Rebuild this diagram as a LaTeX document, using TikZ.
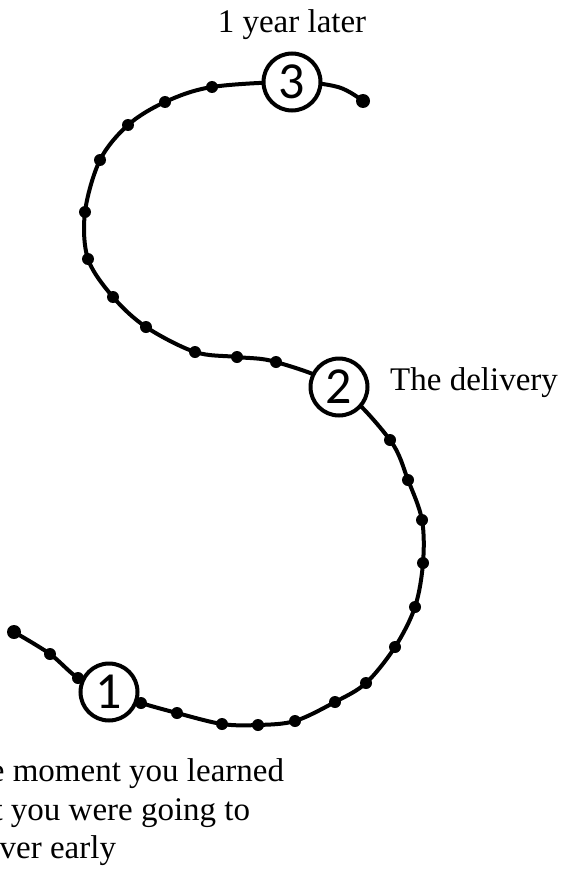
\documentclass[tikz,border=0pt]{standalone}
\usepackage{fontspec}
\setmainfont{Liberation Serif}
\newfontfamily\digitfont{Carlito}
\begin{document}
\begin{tikzpicture}[x=1pt,y=-1pt,
  curve/.style={line width=4pt,black,line cap=round},
  dot/.style={circle,fill=black,inner sep=0pt,minimum size=12pt},
  enddot/.style={circle,fill=black,inner sep=0pt,minimum size=14pt},
  numc/.style={circle,draw=black,line width=4pt,fill=white,inner sep=0pt,
    minimum size=57pt,font=\digitfont\fontsize{52}{52}\selectfont},
  lab/.style={inner sep=0pt,font=\fontsize{33}{38}\selectfont}]
\useasboundingbox (0,0) rectangle (565,872);
\clip (0,0) rectangle (565,872);
% path points
\coordinate (s) at (14,632);
\coordinate (p1) at (50,654);
\coordinate (p2) at (78,678);
\coordinate (k1) at (109,692);
\coordinate (p3) at (141,703);
\coordinate (p4) at (177,713);
\coordinate (p5) at (222,724);
\coordinate (p6) at (258,725);
\coordinate (p7) at (295,721);
\coordinate (p8) at (335,702);
\coordinate (p9) at (366,683);
\coordinate (p10) at (395,647);
\coordinate (p11) at (415,607);
\coordinate (p12) at (423,563);
\coordinate (p13) at (422,520);
\coordinate (p14) at (408,480);
\coordinate (p15) at (390,440);
\coordinate (k2) at (339,387);
\coordinate (p16) at (276,362);
\coordinate (p17) at (237,357);
\coordinate (p18) at (195,352);
\coordinate (p19) at (146,327);
\coordinate (p20) at (113,297);
\coordinate (p21) at (88,259);
\coordinate (p22) at (85,212);
\coordinate (p23) at (100,160);
\coordinate (p24) at (128,125);
\coordinate (p25) at (165,102);
\coordinate (p26) at (212,87);
\coordinate (k3) at (292,82);
\coordinate (m) at (338,87);
\coordinate (e) at (363,101);
% curve
\draw[curve] plot[smooth,tension=0.55] coordinates {(s) (p1) (p2) (k1) (p3) (p4) (p5) (p6) (p7) (p8) (p9) (p10) (p11) (p12) (p13) (p14) (p15) (k2) (p16) (p17) (p18) (p19) (p20) (p21) (p22) (p23) (p24) (p25) (p26) (k3) (m) (e)};
% dots
\foreach \q in {p1,p2,p3,p4,p5,p6,p7,p8,p9,p10,p11,p12,p13,p14,p15,p16,p17,p18,p19,p20,p21,p22,p23,p24,p25,p26}
  \node[dot] (d\q) at (\q) {};
\node[enddot] (ds) at (s) {};
\node[enddot] (de) at (e) {};
% numbered circles
\node[numc] (n1) at (k1) {1};
\node[numc] (n2) at (k2) {2};
\node[numc] (n3) at (k3) {3};
% labels
\node[lab,anchor=base] (t3) at (292,33) {1 year later};
\node[lab,anchor=base west] (t2) at (390,390) {The delivery};
\node[lab,anchor=base west] (t1a) at (-47,781) {The moment you learned};
\node[lab,anchor=base west] (t1b) at (-47,820) {that you were going to};
\node[lab,anchor=base west] (t1c) at (-50,858) {deliver early};
\end{tikzpicture}
\end{document}
